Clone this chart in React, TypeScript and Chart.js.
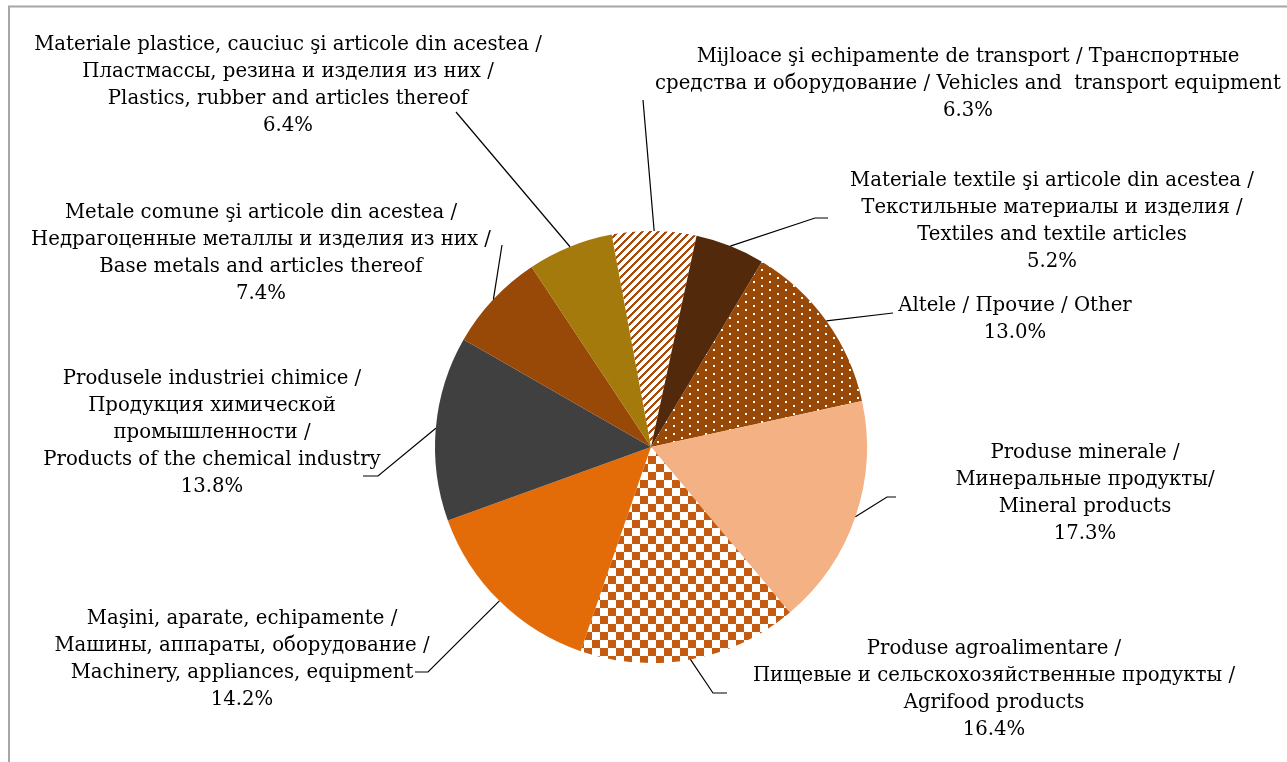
import { useEffect, useRef } from "react";
import { Chart, registerables } from "chart.js";

Chart.register(...registerables);

// ---------- data ----------
const categories = [
  "Vehicles and transport equipment",
  "Textiles and textile articles",
  "Other",
  "Mineral products",
  "Agrifood products",
  "Machinery, appliances, equipment",
  "Products of the chemical industry",
  "Base metals and articles thereof",
  "Plastics, rubber and articles thereof",
];
const shares = [6.3, 5.2, 13.0, 17.3, 16.4, 14.2, 13.8, 7.4, 6.4];
const labelNames: string[][] = [
  ["Mijloace şi echipamente de transport / Транспортные", "средства и оборудование / Vehicles and  transport equipment"],
  ["Materiale textile şi articole din acestea /", "Текстильные материалы и изделия /", "Textiles and textile articles"],
  ["Altele / Прочие / Other"],
  ["Produse minerale /", "Минеральные продукты/", "Mineral products"],
  ["Produse agroalimentare /", "Пищевые и сельскохозяйственные продукты /", "Agrifood products"],
  ["Maşini, aparate, echipamente /", "Машины, аппараты, оборудование /", "Machinery, appliances, equipment"],
  ["Produsele industriei chimice /", "Продукция химической", "промышленности /", "Products of the chemical industry"],
  ["Metale comune şi articole din acestea /", "Недрагоценные металлы и изделия из них /", "Base metals and articles thereof"],
  ["Materiale plastice, cauciuc şi articole din acestea /", "Пластмассы, резина и изделия из них /", "Plastics, rubber and articles thereof"],
];

// ---------- layout / style ----------
const W = 1287;
const H = 762;
const FAMILY = '"DejaVu Serif"';
const REF_WIDTH = 508; // calibration width for the first plastics line
const LINE_H = 27;
const labelCenters: number[][] = [
  [968, 57],
  [1052, 181],
  [1015, 306],
  [1085, 453],
  [994, 649],
  [242, 619],
  [212, 379],
  [261, 213],
  [288, 45],
];
const leaderPoints: number[][][] = [
  [[643, 100]],
  [[815, 218], [828, 218]],
  [[893, 313]],
  [[887, 497], [896, 497]],
  [[713, 693], [727, 693]],
  [[428, 672], [415, 672]],
  [[378, 476], [363, 476]],
  [[502, 245]],
  [[456, 112]],
];

function tile(w: number, h: number, draw: (c: CanvasRenderingContext2D) => void): CanvasPattern | string {
  const cv = document.createElement("canvas");
  cv.width = w;
  cv.height = h;
  const c = cv.getContext("2d")!;
  draw(c);
  const ctx = document.createElement("canvas").getContext("2d")!;
  return ctx.createPattern(cv, "repeat") || "#999";
}

function makeFills(): (CanvasPattern | string)[] {
  const stripes = tile(8, 8, (c) => {
    c.fillStyle = "#ffffff";
    c.fillRect(0, 0, 8, 8);
    c.fillStyle = "#A64B0C";
    for (let x = 0; x < 8; x++)
      for (let y = 0; y < 8; y++) if ((x + y) % 8 < 3) c.fillRect(x, y, 1, 1);
  });
  const dots = tile(16, 8, (c) => {
    c.fillStyle = "#984807";
    c.fillRect(0, 0, 16, 8);
    c.fillStyle = "#ffffff";
    c.fillRect(1, 1, 2, 2);
    c.fillRect(9, 5, 2, 2);
  });
  const checker = tile(16, 16, (c) => {
    c.fillStyle = "#ffffff";
    c.fillRect(0, 0, 16, 16);
    c.fillStyle = "#C55A11";
    c.fillRect(0, 0, 8, 8);
    c.fillRect(8, 8, 8, 8);
  });
  return [stripes, "#52290A", dots, "#F4B183", checker, "#E36C09", "#404040", "#984807", "#A47A0C"];
}

const labelPlugin = {
  id: "pieLabels",
  afterDraw(chart: any) {
    const ctx = chart.ctx as CanvasRenderingContext2D;
    // frame
    ctx.save();
    ctx.strokeStyle = "#a6a6a6";
    ctx.lineWidth = 2;
    ctx.beginPath();
    ctx.moveTo(9, H);
    ctx.lineTo(9, 6.5);
    ctx.lineTo(W, 6.5);
    ctx.stroke();
    ctx.restore();

    ctx.save();
    ctx.font = `20px ${FAMILY}`;
    const w20 = ctx.measureText(labelNames[8][0]).width || REF_WIDTH;
    const size = Math.round(((20 * REF_WIDTH) / w20) * 10) / 10;
    const font = `${size}px ${FAMILY}`;

    const meta = chart.getDatasetMeta(0);
    meta.data.forEach((arc: any, i: number) => {
      const p = arc.getProps(["x", "y", "startAngle", "endAngle", "outerRadius"], true);
      const mid = (p.startAngle + p.endAngle) / 2;
      const sx = p.x + Math.cos(mid) * p.outerRadius;
      const sy = p.y + Math.sin(mid) * p.outerRadius;
      ctx.strokeStyle = "#000000";
      ctx.lineWidth = 1.2;
      ctx.beginPath();
      ctx.moveTo(sx, sy);
      leaderPoints[i].forEach((pt) => ctx.lineTo(pt[0], pt[1]));
      ctx.stroke();

      const lines = [...labelNames[i], shares[i].toFixed(1) + "%"];
      ctx.fillStyle = "#000000";
      ctx.font = font;
      ctx.textAlign = "center";
      ctx.textBaseline = "middle";
      const [cx, cy] = labelCenters[i];
      lines.forEach((ln, k) => ctx.fillText(ln, cx, cy + k * LINE_H));
    });
    ctx.restore();
  },
};

export default function App() {
  const ref = useRef<HTMLCanvasElement>(null);
  useEffect(() => {
    if (!ref.current) return;
    const chart = new Chart(ref.current, {
      type: "pie",
      data: {
        labels: categories,
        datasets: [
          {
            data: shares,
            backgroundColor: makeFills() as any,
            borderWidth: 0,
          },
        ],
      },
      options: {
        animation: false,
        responsive: false,
        devicePixelRatio: 1,
        rotation: -10.5,
        layout: { padding: { left: 435, right: 420, top: 231, bottom: 99 } },
        plugins: { legend: { display: false }, tooltip: { enabled: false } },
      },
      plugins: [labelPlugin],
    });
    return () => chart.destroy();
  }, []);
  return (
    <div style={{ position: "absolute", left: 0, top: 0, width: W, height: H, background: "#fff" }}>
      <canvas ref={ref} width={W} height={H} style={{ display: "block", width: W, height: H }} />
    </div>
  );
}
